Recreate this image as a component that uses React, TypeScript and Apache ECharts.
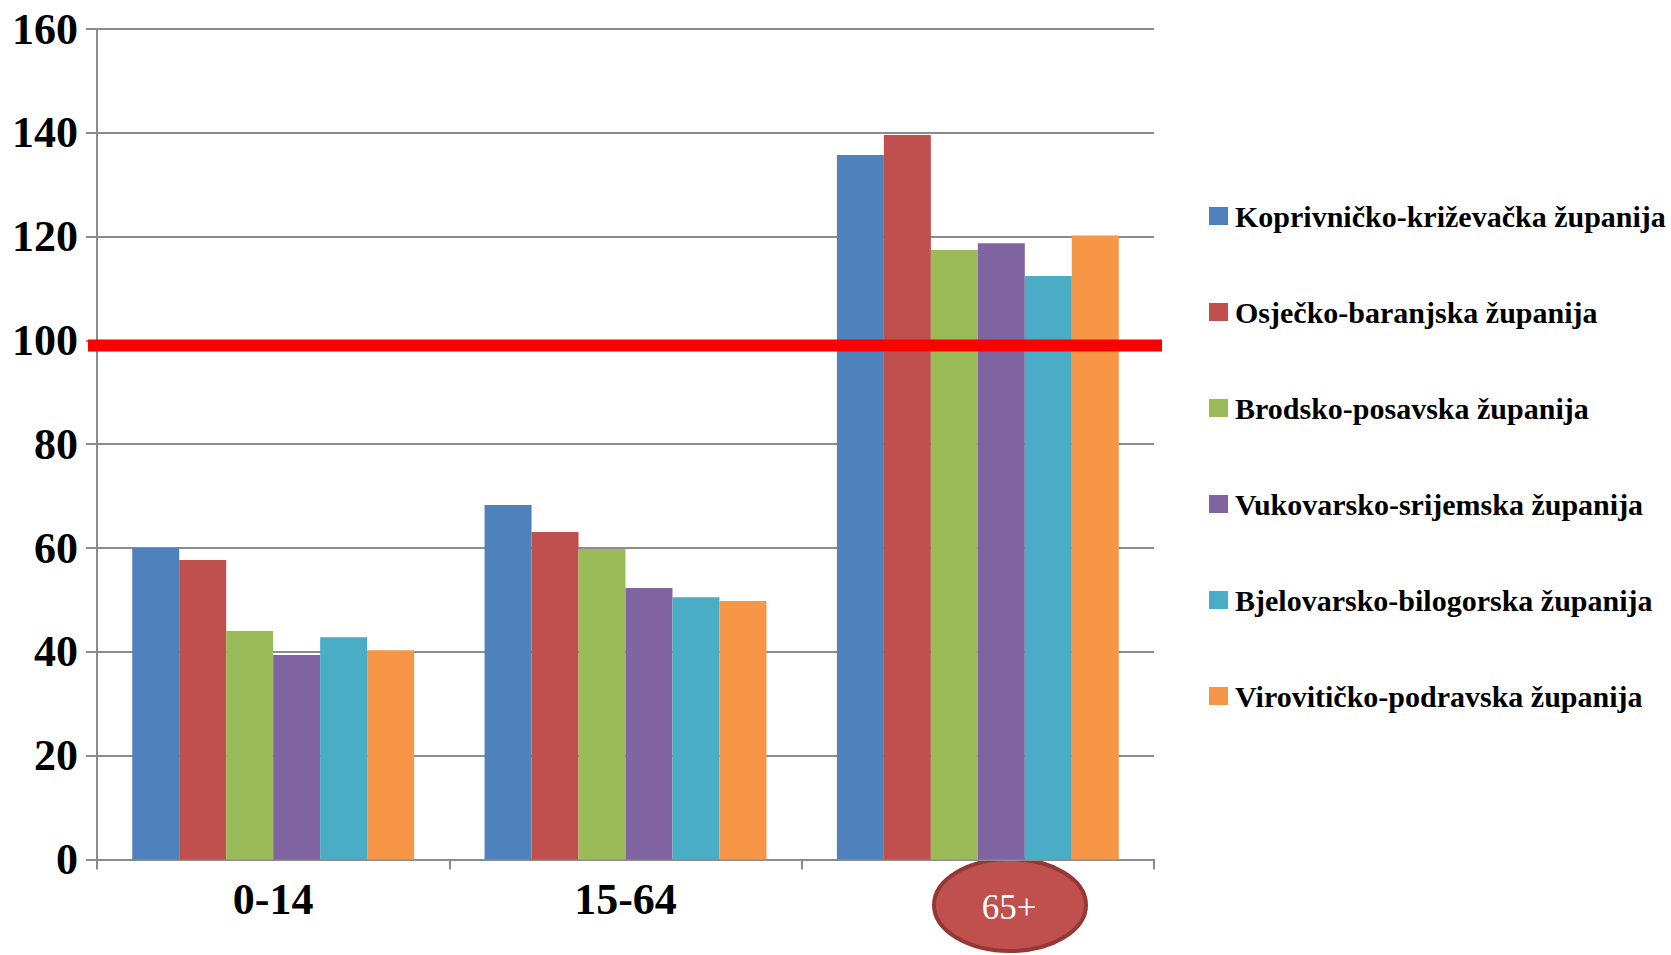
import React, { useEffect, useRef } from "react";
import * as echarts from "echarts";

const categories = ["0-14", "15-64", "65+"];
const seriesNames = [
  "Koprivničko-križevačka županija",
  "Osječko-baranjska županija",
  "Brodsko-posavska županija",
  "Vukovarsko-srijemska županija",
  "Bjelovarsko-bilogorska županija",
  "Virovitičko-podravska županija",
];
const koprivnicko = [60.0, 68.3, 135.7];
const osjecko = [57.7, 63.1, 139.6];
const brodsko = [44.0, 59.8, 117.4];
const vukovarsko = [39.4, 52.3, 118.7];
const bjelovarsko = [42.8, 50.5, 112.4];
const viroviticko = [40.3, 49.8, 120.2];
const seriesValues = [koprivnicko, osjecko, brodsko, vukovarsko, bjelovarsko, viroviticko];
const colors = ["#4F81BD", "#C0504D", "#9BBB59", "#8064A2", "#4BACC6", "#F79646"];
const referenceValue = 99;
const highlightLabel = "65+";

const FONT = "'Liberation Serif', 'Times New Roman', serif";

export default function App() {
  const ref = useRef<HTMLDivElement>(null);
  useEffect(() => {
    document.body.style.margin = "0";
    const chart = echarts.init(ref.current!, null, { renderer: "svg" });
    chart.setOption({
      animation: false,
      backgroundColor: "#ffffff",
      grid: { left: 97, top: 29, width: 1057, height: 830.4, containLabel: false },
      legend: {
        orient: "vertical",
        left: 1204,
        top: 196,
        itemWidth: 19,
        itemHeight: 18,
        itemGap: 66,
        icon: "rect",
        data: seriesNames,
        textStyle: {
          fontFamily: FONT,
          fontWeight: "bold",
          fontSize: 30,
          color: "#000",
          lineHeight: 30,
          padding: [0, 0, 0, 2],
        },
      },
      xAxis: {
        type: "category",
        data: categories,
        axisLine: { show: true, lineStyle: { color: "#8c8c8c", width: 2 } },
        axisTick: { show: true, length: 10, lineStyle: { color: "#8c8c8c", width: 2 } },
        axisLabel: {
          margin: 18,
          fontFamily: FONT,
          fontWeight: "bold",
          fontSize: 44,
          color: "#000",
          formatter: (v: string) => (v === highlightLabel ? "" : v),
        },
        splitLine: { show: false },
      },
      yAxis: {
        type: "value",
        min: 0,
        max: 160,
        interval: 20,
        axisLine: { show: true, lineStyle: { color: "#8c8c8c", width: 2 } },
        axisTick: { show: true, length: 11, lineStyle: { color: "#8c8c8c", width: 2 } },
        axisLabel: {
          margin: 19,
          fontFamily: FONT,
          fontWeight: "bold",
          fontSize: 44,
          color: "#000",
        },
        splitLine: { show: true, lineStyle: { color: "#8c8c8c", width: 2 } },
      },
      series: seriesNames.map((name, i) => ({
        name,
        type: "bar",
        data: seriesValues[i],
        itemStyle: { color: colors[i] },
        barGap: "0%",
        barCategoryGap: "20%",
      })),
    });
    const yRef = chart.convertToPixel({ yAxisIndex: 0 }, referenceValue) as number;
    chart.setOption({
      graphic: [
        {
          type: "line",
          z: 100,
          shape: { x1: 88, y1: yRef, x2: 1162, y2: yRef },
          style: { stroke: "#FF0000", lineWidth: 12 },
        },
        {
          type: "group",
          z: 100,
          children: [
            {
              type: "ellipse",
              shape: { cx: 1010, cy: 905, rx: 76, ry: 46 },
              style: { fill: "#C0504D", stroke: "#953735", lineWidth: 4 },
            },
            {
              type: "text",
              x: 1009,
              y: 907,
              style: {
                text: highlightLabel,
                fill: "#ffffff",
                fontFamily: FONT,
                fontSize: 35,
                align: "center",
                verticalAlign: "middle",
              },
            },
          ],
        },
      ],
    });
    return () => chart.dispose();
  }, []);
  return (
    <div
      ref={ref}
      style={{ position: "absolute", left: 0, top: 0, width: 1671, height: 955 }}
    />
  );
}
